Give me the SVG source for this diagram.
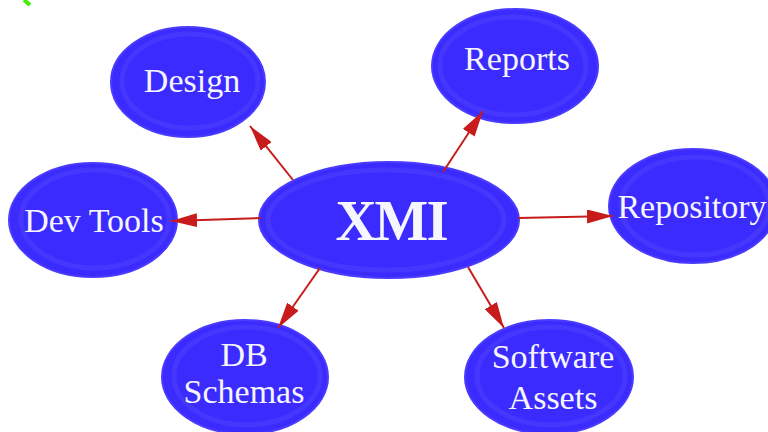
<svg xmlns="http://www.w3.org/2000/svg" width="768" height="432" viewBox="0 0 768 432">
<defs>
<style>
.blob{fill:#3b2bff;stroke:#4a3bff;stroke-width:2}
.ring{fill:none;stroke:#4637ff;stroke-width:5}
.lbl{font-family:"Liberation Serif","Times New Roman",serif;font-size:34px;fill:#f6f6ff;text-anchor:middle}
.big{font-family:"Liberation Serif","Times New Roman",serif;font-size:57px;font-weight:bold;fill:#f6f6ff;text-anchor:middle;letter-spacing:-2px}
.edge{stroke:#c81c1c;stroke-width:2;fill:none;marker-end:url(#arr)}
</style>
<marker id="arr" viewBox="0 0 26 14" refX="26" refY="7" markerWidth="26" markerHeight="14" markerUnits="userSpaceOnUse" orient="auto">
<path d="M0,0 L26,7 L0,14 z" fill="#c81c1c"/>
</marker>
</defs>
<rect width="768" height="432" fill="#ffffff"/>
<line x1="24" y1="0" x2="30" y2="5" stroke="#44ee00" stroke-width="4"/>
<g id="node-xmi">
<ellipse class="blob" cx="389" cy="220" rx="130" ry="58"/>
<ellipse class="ring" cx="386" cy="220" rx="118" ry="50"/>
<text class="big" x="391" y="240">XMI</text>
</g>
<g id="node-design">
<ellipse class="blob" cx="188" cy="82" rx="77" ry="55"/>
<ellipse class="ring" cx="190" cy="81" rx="68" ry="47"/>
<text class="lbl" x="192" y="92">Design</text>
</g>
<g id="node-reports">
<ellipse class="blob" cx="515" cy="66" rx="83" ry="57"/>
<ellipse class="ring" cx="513" cy="66" rx="73" ry="49"/>
<text class="lbl" x="517" y="70">Reports</text>
</g>
<g id="node-devtools">
<ellipse class="blob" cx="93" cy="220" rx="84" ry="57"/>
<ellipse class="ring" cx="95" cy="219" rx="74" ry="49"/>
<text class="lbl" x="94" y="232">Dev Tools</text>
</g>
<g id="node-repository">
<ellipse class="blob" cx="693" cy="206" rx="84" ry="57"/>
<ellipse class="ring" cx="695" cy="206" rx="74" ry="49"/>
<text class="lbl" x="692" y="218">Repository</text>
</g>
<g id="node-dbschemas">
<ellipse class="blob" cx="245" cy="377" rx="83" ry="57"/>
<ellipse class="ring" cx="247" cy="376" rx="73" ry="49"/>
<text class="lbl" x="244" y="366">DB</text>
<text class="lbl" x="244" y="403">Schemas</text>
</g>
<g id="node-softwareassets">
<ellipse class="blob" cx="549" cy="377" rx="84" ry="57"/>
<ellipse class="ring" cx="551" cy="376" rx="74" ry="49"/>
<text class="lbl" x="553" y="368">Software</text>
<text class="lbl" x="553" y="409">Assets</text>
</g>
<g id="connectors">
<line class="edge" x1="293" y1="180" x2="250" y2="126"/>
<line class="edge" x1="443" y1="172" x2="483" y2="111"/>
<line class="edge" x1="518" y1="218" x2="613" y2="216"/>
<line class="edge" x1="261" y1="218" x2="171" y2="221"/>
<line class="edge" x1="320" y1="268" x2="278" y2="328"/>
<line class="edge" x1="468" y1="267" x2="504" y2="328"/>
</g>
</svg>
